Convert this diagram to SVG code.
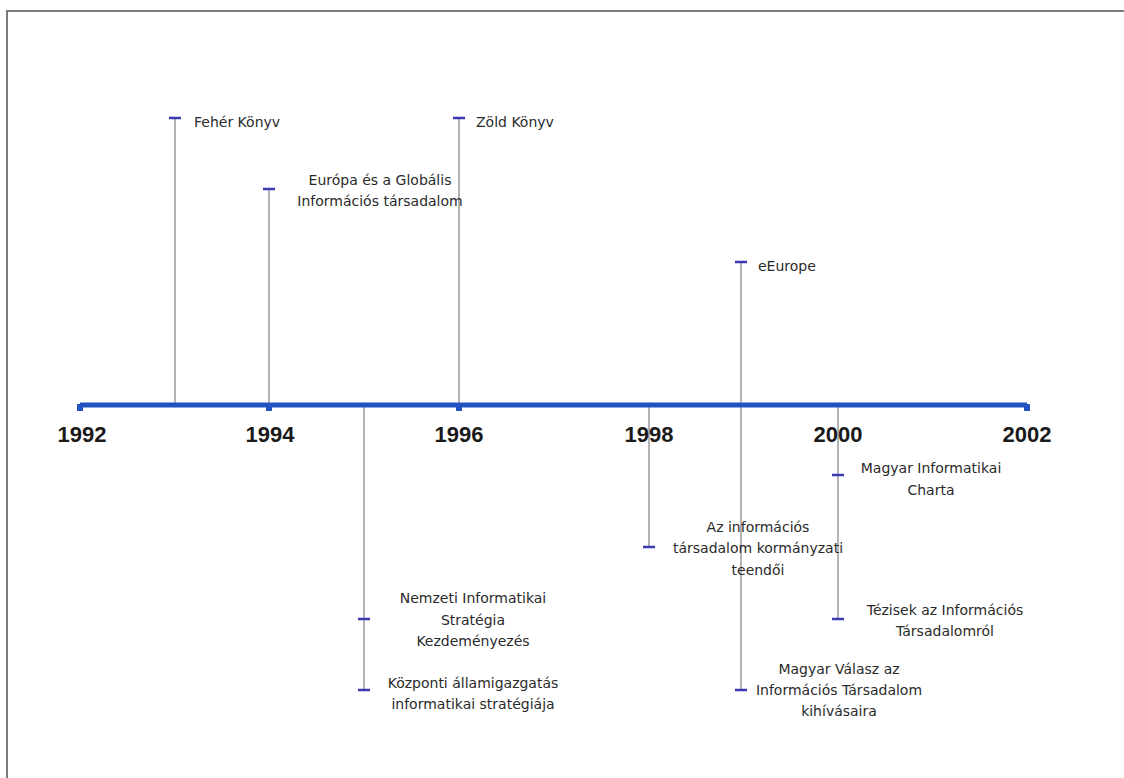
<svg xmlns="http://www.w3.org/2000/svg" width="1124" height="778" viewBox="0 0 1124 778">
<style>
.t{font-family:"DejaVu Sans",Tahoma,sans-serif;font-size:14px;fill:#2a2a2a}
.c{text-anchor:middle}
.yr{font-family:"Liberation Sans",Arial,sans-serif;font-size:22px;font-weight:bold;fill:#1a1a1a;text-anchor:middle}
.v{stroke:#b4b4b4;stroke-width:2;fill:none}
.k{stroke:#3b3bb0;stroke-width:2.5;fill:none}
.ax{stroke:#2252bf;stroke-width:5;fill:none}
.sq{fill:#2252bf}
</style>
<rect width="1124" height="778" fill="#ffffff"/>
<path d="M7 778 V11 H1124" fill="none" stroke="#7a7a7a" stroke-width="2"/>
<g id="connectors">
<line class="v" x1="175" y1="118" x2="175" y2="405"/>
<line class="v" x1="269" y1="189" x2="269" y2="405"/>
<line class="v" x1="459" y1="118" x2="459" y2="405"/>
<line class="v" x1="741" y1="262" x2="741" y2="690"/>
<line class="v" x1="364" y1="405" x2="364" y2="690"/>
<line class="v" x1="649" y1="405" x2="649" y2="547"/>
<line class="v" x1="838" y1="405" x2="838" y2="619"/>
</g>
<g id="axis">
<line class="ax" x1="80" y1="405" x2="1027" y2="405"/>
<rect class="sq" x="77" y="404" width="6" height="7"/>
<rect class="sq" x="266" y="404" width="6" height="7"/>
<rect class="sq" x="456" y="404" width="6" height="7"/>
<rect class="sq" x="1024" y="404" width="6" height="7"/>
<text class="yr" x="82" y="442">1992</text>
<text class="yr" x="270" y="442">1994</text>
<text class="yr" x="459" y="442">1996</text>
<text class="yr" x="649" y="442">1998</text>
<text class="yr" x="838" y="442">2000</text>
<text class="yr" x="1027" y="442">2002</text>
</g>
<g id="feher">
<line class="k" x1="169" y1="118" x2="181" y2="118"/>
<text class="t" x="194" y="127">Fehér Könyv</text>
</g>
<g id="europa">
<line class="k" x1="263" y1="189" x2="275" y2="189"/>
<text class="t c" x="380" y="185">Európa és a Globális</text>
<text class="t c" x="380" y="206">Információs társadalom</text>
</g>
<g id="zold">
<line class="k" x1="453" y1="118" x2="465" y2="118"/>
<text class="t" x="476" y="127">Zöld Könyv</text>
</g>
<g id="eeurope">
<line class="k" x1="735" y1="262" x2="747" y2="262"/>
<text class="t" x="758" y="271">eEurope</text>
</g>
<g id="nemzeti">
<line class="k" x1="358" y1="619" x2="370" y2="619"/>
<text class="t c" x="473" y="603">Nemzeti Informatikai</text>
<text class="t c" x="473" y="625">Stratégia</text>
<text class="t c" x="473" y="646">Kezdeményezés</text>
</g>
<g id="kozponti">
<line class="k" x1="358" y1="690" x2="370" y2="690"/>
<text class="t c" x="473" y="688">Központi államigazgatás</text>
<text class="t c" x="473" y="709">informatikai stratégiája</text>
</g>
<g id="teendoi">
<line class="k" x1="643" y1="547" x2="655" y2="547"/>
<text class="t c" x="758" y="532">Az információs</text>
<text class="t c" x="758" y="553">társadalom kormányzati</text>
<text class="t c" x="758" y="575">teendői</text>
</g>
<g id="valasz">
<line class="k" x1="735" y1="690" x2="747" y2="690"/>
<text class="t c" x="839" y="674">Magyar Válasz az</text>
<text class="t c" x="839" y="695">Információs Társadalom</text>
<text class="t c" x="839" y="716">kihívásaira</text>
</g>
<g id="charta">
<line class="k" x1="832" y1="475" x2="844" y2="475"/>
<text class="t c" x="931" y="473">Magyar Informatikai</text>
<text class="t c" x="931" y="495">Charta</text>
</g>
<g id="tezisek">
<line class="k" x1="832" y1="619" x2="844" y2="619"/>
<text class="t c" x="945" y="615">Tézisek az Információs</text>
<text class="t c" x="945" y="636">Társadalomról</text>
</g>
</svg>
